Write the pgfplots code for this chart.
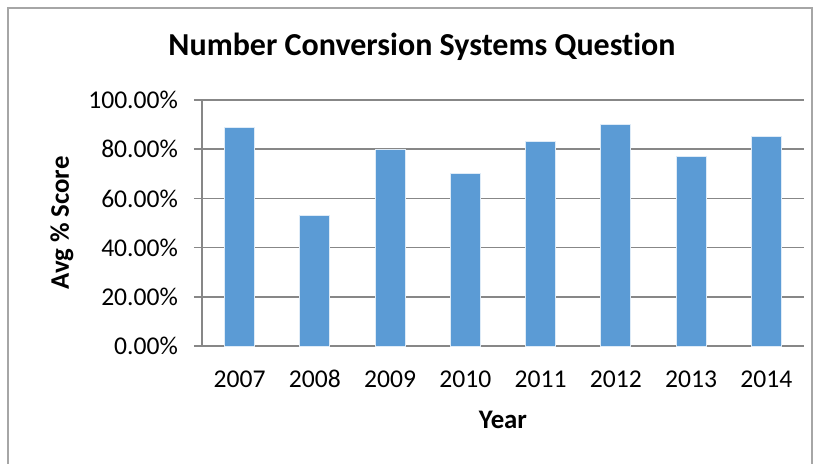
\documentclass[border=0pt]{standalone}
\usepackage{pgfplots}
\pgfplotsset{compat=1.18}
\usepackage{fontspec}
\setmainfont{Carlito}[Ligatures=NoCommon]
\definecolor{barblue}{HTML}{5B9BD5}
\definecolor{gridgray}{HTML}{878787}
\definecolor{framegray}{HTML}{A6A6A6}
\begin{document}
\begin{tikzpicture}
\useasboundingbox (0,0) rectangle (410pt,232pt);
\draw[framegray, line width=0.8pt] (4pt,0pt) -- (4pt,228pt) -- (406pt,228pt) -- (406pt,0pt);
\node[font=\bfseries\fontsize{16}{19}\selectfont] at (211pt,208.5pt) {Number Conversion Systems Question};
\begin{axis}[
  at={(101pt,59pt)}, anchor=south west,
  scale only axis, width=301pt, height=123pt,
  ymin=0, ymax=100, xmin=-0.5, xmax=7.5,
  ytick={0,20,40,60,80,100},
  yticklabels={0.00\%,20.00\%,40.00\%,60.00\%,80.00\%,100.00\%},
  xtick={0,...,7},
  xticklabels={2007,2008,2009,2010,2011,2012,2013,2014},
  axis x line*=bottom, axis y line*=left,
  axis line style={gridgray, line width=0.8pt, -},
  ymajorgrids, grid style={gridgray, line width=0.8pt},
  ytick style={gridgray, line width=0.8pt}, xtick style={draw=none},
  tick align=outside, major tick length=4pt,
  tick label style={font=\fontsize{12.8}{15}\selectfont},
  yticklabel style={xshift=-4.5pt},
  xticklabel style={yshift=-4pt, text height=9pt, text depth=0pt},
  ylabel={\bfseries Avg \% Score},
  xlabel={\bfseries Year},
  label style={font=\bfseries\fontsize{13.4}{15}\selectfont},
  ylabel style={at={(axis description cs:-0.2326,0.5)}, anchor=center},
  xlabel style={at={(axis description cs:0.5,0)}, anchor=center, yshift=-37pt},
  clip=false,
]
\addplot[ybar, bar width=15pt, fill=barblue, draw=white!80!barblue, line width=0.4pt] coordinates {
(0,89) (1,53) (2,80) (3,70) (4,83) (5,90) (6,77) (7,85)};
\end{axis}
\end{tikzpicture}
\end{document}
